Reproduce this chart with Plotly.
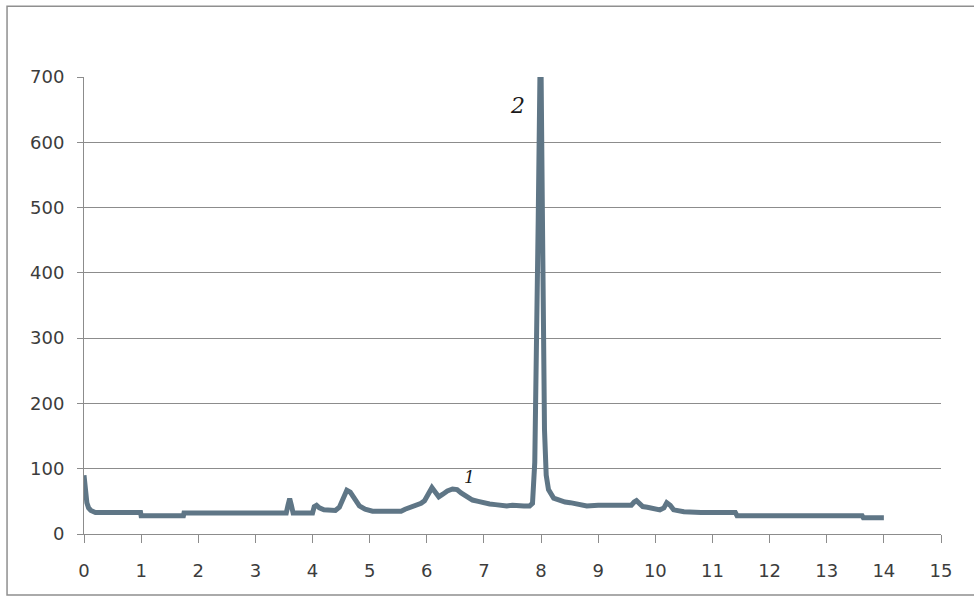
import plotly.graph_objects as go

# Retention time (min) and detector signal
time_min = [0.00, 0.01, 0.03, 0.05, 0.08, 0.12, 0.20, 0.50, 0.99, 1.00, 1.74, 1.75,
            3.54, 3.57, 3.60, 3.63, 3.66, 4.00, 4.03, 4.07, 4.12, 4.20, 4.30,
            4.40, 4.47, 4.55, 4.60, 4.66, 4.74, 4.82, 4.92, 5.05, 5.30, 5.55,
            5.62, 5.75, 5.82, 5.90, 5.96, 6.03, 6.09, 6.15, 6.21, 6.28, 6.36,
            6.45, 6.53, 6.60, 6.70, 6.80, 6.90, 7.00, 7.10, 7.20, 7.30, 7.40,
            7.50, 7.60, 7.70, 7.80, 7.85, 7.89, 7.92, 7.95, 7.98, 8.00, 8.02,
            8.04, 8.06, 8.09, 8.13, 8.22, 8.32, 8.42, 8.51, 8.60, 8.70, 8.80,
            9.00, 9.20, 9.40, 9.58, 9.63, 9.67, 9.72, 9.78, 9.86, 10.08, 10.15,
            10.20, 10.26, 10.32, 10.50, 10.80, 11.40, 11.43, 13.62, 13.64, 14.00]
signal = [90, 82, 60, 48, 40, 36, 33, 33, 33, 28, 28, 32,
          32, 44, 54, 44, 32, 32, 42, 44, 40, 37, 36,
          36, 41, 56, 67, 64, 54, 43, 38, 35, 35, 35,
          38, 42, 45, 47, 51, 61, 71, 64, 57, 61, 66,
          69, 68, 63, 57, 52, 50, 47, 46, 45, 44, 43,
          44, 43, 43, 43, 47, 110, 260, 480, 700, 710, 520,
          300, 160, 90, 68, 55, 51, 49, 48, 46, 44, 43,
          44, 44, 44, 44, 49, 51, 47, 42, 41, 37, 40,
          48, 44, 37, 34, 33, 33, 28, 28, 25, 25]

x_ticks = list(range(0, 16))
y_ticks = list(range(0, 701, 100))

peak_labels = ["2", "1"]
peak_label_x = [7.58, 6.74]
peak_label_y = [657, 87]

fig = go.Figure()
fig.add_trace(go.Scatter(
    x=time_min, y=signal, mode="lines",
    line=dict(color="#5f7686", width=5),
    cliponaxis=True, showlegend=False,
))

for txt, lx, ly, sz in zip(peak_labels, peak_label_x, peak_label_y, [22, 17]):
    fig.add_annotation(x=lx, y=ly, text=txt, showarrow=False,
                       font=dict(family="DejaVu Serif", size=sz, color="#1a1a1a",
                                 style="italic"))

# outer chart border (runs off the right edge of the page)
fig.add_shape(type="rect", xref="paper", yref="paper",
              x0=-0.0898, x1=1.2, y0=-0.1335, y1=1.155,
              line=dict(color="#8f8f8f", width=1.5), layer="below")

axis_font = dict(family="DejaVu Sans", size=18, color="#3c3c3c")
fig.update_xaxes(range=[0, 15], tickvals=x_ticks, ticks="outside", ticklen=8,
                 tickcolor="#8c8c8c", showgrid=False, showline=True,
                 linecolor="#8c8c8c", linewidth=1, zeroline=False,
                 tickfont=axis_font, ticklabelstandoff=12)
fig.update_yaxes(range=[0, 700], tickvals=y_ticks, ticks="outside", ticklen=6,
                 tickcolor="#8c8c8c", showgrid=True, gridcolor="#8c8c8c",
                 gridwidth=1, showline=True, linecolor="#8c8c8c", linewidth=1,
                 zeroline=False, tickfont=axis_font, ticklabelstandoff=9)

fig.update_layout(
    width=974, height=597,
    margin=dict(l=84, r=33, t=77, b=63),
    paper_bgcolor="white", plot_bgcolor="white",
)

fig.write_html("out.html")
